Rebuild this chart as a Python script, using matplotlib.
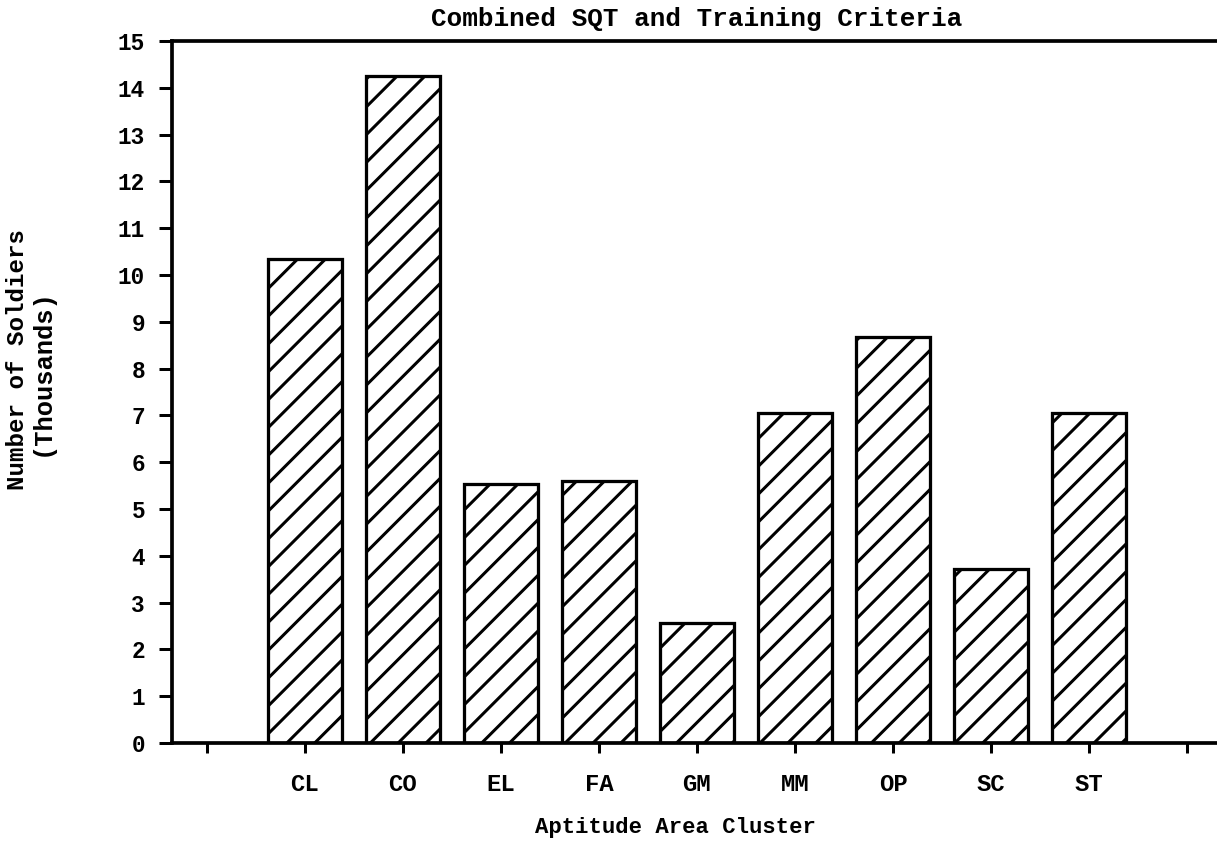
import numpy as np
import matplotlib
matplotlib.use("Agg")
import matplotlib.pyplot as plt

# values (thousands of soldiers)
clusters = ["CL", "CO", "EL", "FA", "GM", "MM", "OP", "SC", "ST"]
soldiers = [10.35, 14.25, 5.53, 5.6, 2.56, 7.05, 8.68, 3.72, 7.05]
y_ticks = list(range(0, 16))

DPI = 167  # hatch spacing follows the dpi
W, H = 1217, 842

plt.rcParams["font.family"] = ["Liberation Mono", "DejaVu Sans Mono"]
plt.rcParams["font.weight"] = "bold"
plt.rcParams["hatch.linewidth"] = 1.3

fig = plt.figure(figsize=(W / DPI, H / DPI), dpi=DPI)
ax = fig.add_axes([172 / W, 1 - 743 / H, 1 - 172 / W, (743 - 41) / H])

x_pos = np.arange(1, len(clusters) + 1)
ax.bar(x_pos, soldiers, width=0.75, color="white", edgecolor="black",
       linewidth=1.4, hatch="//")

ax.set_xlim(-0.357, 10.306)
ax.set_ylim(0, 15)
ax.set_xticks(np.arange(0, len(clusters) + 2))
ax.set_xticklabels([""] + clusters + [""])
ax.set_yticks(y_ticks)

ax.spines["right"].set_visible(False)
for s in ["left", "bottom", "top"]:
    ax.spines[s].set_linewidth(1.6)

ax.tick_params(axis="y", direction="out", length=5.6, width=1.3, pad=6,
               labelsize=9.8)
ax.tick_params(axis="x", direction="out", length=4.3, width=1.3, pad=8.5,
               labelsize=10.3)

fig.text(697 / W, 1 - 19 / H, "Combined SQT and Training Criteria",
         ha="center", va="center", fontsize=11.2, fontweight="bold")
fig.text(675 / W, 1 - 827 / H, "Aptitude Area Cluster",
         ha="center", va="center", fontsize=9.6, fontweight="bold")
fig.text(18 / W, 1 - 359 / H, "Number of Soldiers", rotation=90,
         ha="center", va="center", fontsize=10.4, fontweight="bold")
fig.text(42 / W, 1 - 372 / H, "(Thousands)", rotation=90,
         ha="center", va="center", fontsize=11.0, fontweight="bold")

plt.savefig("out.png", dpi=DPI)
